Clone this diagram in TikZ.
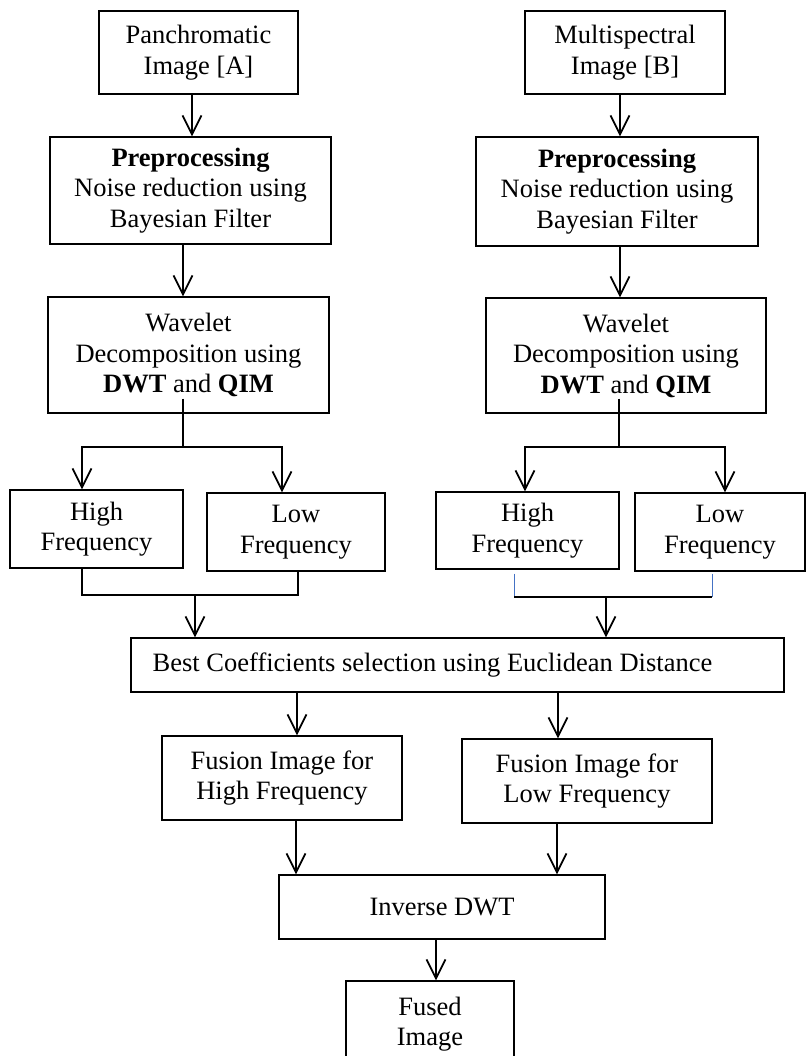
\documentclass[tikz,border=0pt]{standalone}
\usepackage{fontspec}
\setmainfont{Liberation Serif}
\usetikzlibrary{arrows.meta}
\definecolor{linkblue}{RGB}{68,114,196}

\begin{document}
\begin{tikzpicture}[x=1pt, y=-1pt,
    box/.style={draw, line width=1.2pt, inner sep=0pt, align=center,
        font=\fontsize{26.5}{30.5}\selectfont},
    wire/.style={line width=1.8pt},
    flow/.style={wire, ->},
    bluelink/.style={linkblue, line width=1pt},
    >={Straight Barb[length=19pt, width=19pt]}]

    \useasboundingbox (0,0) rectangle (806,1056);
    \clip (0,0) rectangle (806,1056);

    % Input images
    \node[box, minimum width=199pt, minimum height=83pt] (panA) at (198.5,52.5) {Panchromatic\\Image [A]};
    \node[box, minimum width=200pt, minimum height=83pt] (panB) at (625,52.5) {Multispectral\\Image [B]};

    % Preprocessing
    \node[box, minimum width=281pt, minimum height=107pt] (preA) at (190.5,190.5) {\textbf{Preprocessing}\\Noise reduction using\\Bayesian Filter};
    \node[box, minimum width=282pt, minimum height=109pt] (preB) at (617,191.5) {\textbf{Preprocessing}\\Noise reduction using\\Bayesian Filter};

    % Wavelet decomposition
    \node[box, minimum width=281pt, minimum height=116pt] (wavA) at (188.5,355) {Wavelet\\Decomposition using\\\textbf{DWT} and \textbf{QIM}};
    \node[box, minimum width=280pt, minimum height=115pt] (wavB) at (626,355.5) {Wavelet\\Decomposition using\\\textbf{DWT} and \textbf{QIM}};

    % Frequency bands
    \node[box, minimum width=173pt, minimum height=78pt] (highA) at (96.5,529) {High\\Frequency};
    \node[box, minimum width=178pt, minimum height=78pt] (lowA) at (296,532) {Low\\Frequency};
    \node[box, minimum width=183pt, minimum height=77pt] (highB) at (527.5,530.5) {High\\Frequency};
    \node[box, minimum width=170pt, minimum height=78pt] (lowB) at (720,532) {Low\\Frequency};

    % Selection and fusion
    \node[box, minimum width=653pt, minimum height=54pt] (best) at (457.5,665) {Best Coefficients selection using Euclidean Distance\hspace*{50pt}};
    \node[box, minimum width=240pt, minimum height=84pt] (fusH) at (282,778) {Fusion Image for\\High Frequency};
    \node[box, minimum width=250pt, minimum height=84pt] (fusL) at (587,781) {Fusion Image for\\Low Frequency};
    \node[box, minimum width=326pt, minimum height=64pt] (inv) at (442,907) {Inverse DWT};
    \node[box, minimum width=168pt, minimum height=86pt] (fused) at (430,1024) {Fused\\Image};

    % Junctions
    \coordinate (jA) at (183,447);
    \coordinate (jB) at (619,447);
    \coordinate (mA) at (195,595);
    \coordinate (mB) at (606,597);
    \coordinate (lB) at (514,597);
    \coordinate (rB) at (712,597);

    % Input chains
    \draw[flow] ([xshift=-6.5pt]panA.south) -- ([xshift=1.5pt]preA.north);
    \draw[flow] ([xshift=-7.5pt]preA.south) -- ([xshift=-5.5pt]wavA.north);
    \draw[flow] ([xshift=-5pt]panB.south) -- ([xshift=3pt]preB.north);
    \draw[flow] ([xshift=3pt]preB.south) -- ([xshift=-6pt]wavB.north);

    % Split into bands
    \draw[wire] ([xshift=-5.5pt,yshift=15pt]wavA.south) -- (jA);
    \draw[flow] (jA) -| ([xshift=-14.5pt]highA.north);
    \draw[flow] (jA) -| ([xshift=-14pt]lowA.north);
    \draw[wire] ([xshift=-7pt,yshift=15pt]wavB.south) -- (jB);
    \draw[flow] (jB) -| ([xshift=-2.5pt]highB.north);
    \draw[flow] (jB) -| ([xshift=5pt]lowB.north);

    % Merge into selection
    \draw[wire] ([xshift=-14.5pt]highA.south) |- (mA) -| ([xshift=2pt]lowA.south);
    \draw[flow] (mA) -- (mA |- best.north);
    \draw[bluelink] ([xshift=-13.5pt,yshift=-4pt]highB.south) -- (lB);
    \draw[bluelink] ([xshift=-8pt,yshift=-2pt]lowB.south) -- (rB);
    \draw[wire] (lB) -- (rB);
    \draw[flow] (mB) -- (mB |- best.north);

    % Fusion and output
    \draw[flow] ([xshift=-160.5pt]best.south) -- ([xshift=15pt]fusH.north);
    \draw[flow] ([xshift=100.5pt]best.south) -- ([xshift=-29pt]fusL.north);
    \draw[flow] ([xshift=14pt]fusH.south) -- ([xshift=-146pt]inv.north);
    \draw[flow] ([xshift=-30pt]fusL.south) -- ([xshift=115pt]inv.north);
    \draw[flow] ([xshift=-6pt]inv.south) -- ([xshift=6pt]fused.north);

\end{tikzpicture}
\end{document}
